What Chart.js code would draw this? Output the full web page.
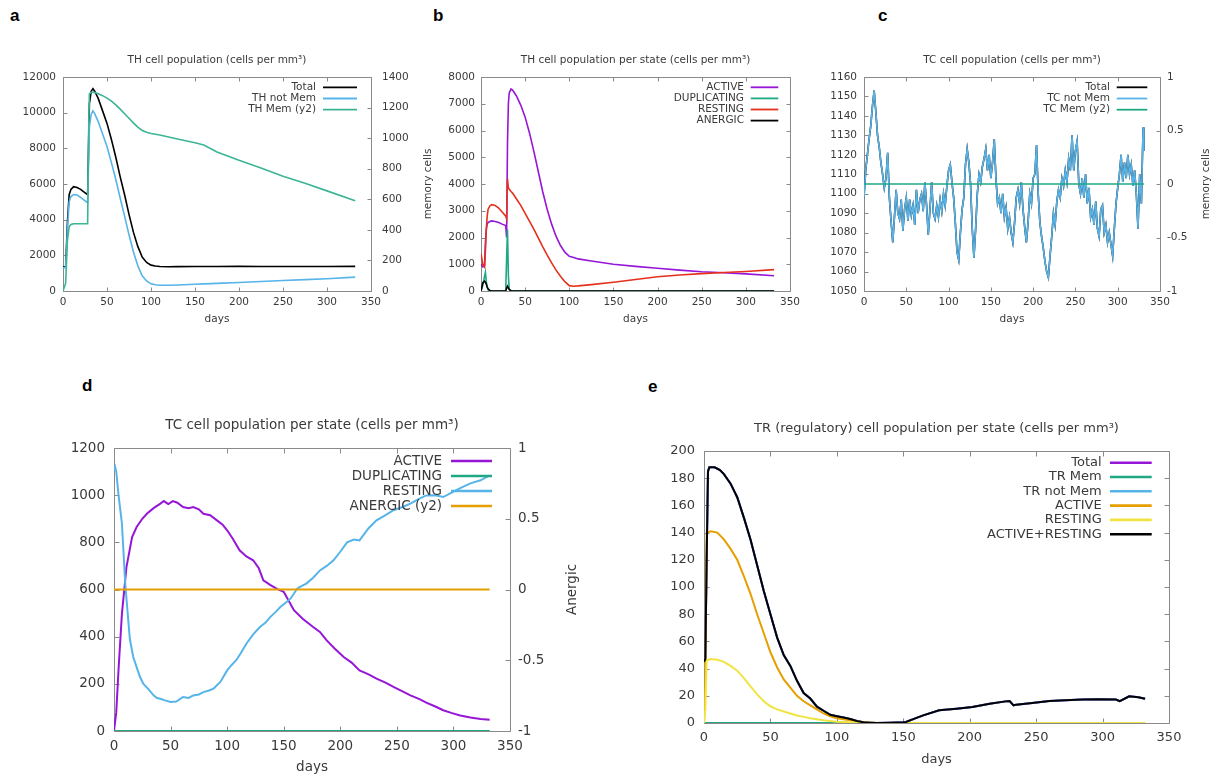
<!DOCTYPE html>
<html lang="en">
<head>
  <meta charset="UTF-8">
  <title>Immune simulation: cell populations</title>
  <script src="https://cdn.jsdelivr.net/npm/chart.js"></script>
  <style>
    body { margin: 0; background: #fff; width: 1213px; height: 776px; position: relative; overflow: hidden; }
    canvas { position: absolute; }
    .tag { position: absolute; font: bold 17px "Liberation Sans", Arial, sans-serif; color: #000; line-height: 17px; }
  </style>
</head>
<body>
  <div class="tag" style="left:10px;top:7px">a</div>
  <div class="tag" style="left:433px;top:7px">b</div>
  <div class="tag" style="left:878px;top:7px">c</div>
  <div class="tag" style="left:82px;top:377px">d</div>
  <div class="tag" style="left:648px;top:378px">e</div>

  <canvas id="chartA" width="415" height="286" style="left:0px;top:40px"></canvas>
  <canvas id="chartB" width="383" height="286" style="left:422px;top:40px"></canvas>
  <canvas id="chartC" width="393" height="286" style="left:820px;top:40px"></canvas>
  <canvas id="chartD" width="520" height="376" style="left:60px;top:400px"></canvas>
  <canvas id="chartE" width="560" height="367" style="left:640px;top:400px"></canvas>

  <script>
    // ---- panel a: TH cell population ----
    const aDays = [0,3,5,7,9,12,16,20,24,28,29,30,32,34,36,40,45,50,55,60,65,70,75,80,85,90,95,100,105,110,120,130,150,160,175,200,225,250,275,300,332];
    const aTotal = [1350,1350,3800,5400,5700,5850,5800,5700,5550,5400,8000,10500,11200,11350,11200,10800,10100,9400,8500,7500,6400,5400,4300,3300,2500,1900,1600,1450,1400,1370,1360,1365,1370,1370,1375,1380,1375,1370,1370,1370,1380];
    const aNotMem = [1300,1300,3400,5000,5300,5410,5380,5250,5100,4950,7000,9200,9900,10100,9950,9500,8800,8100,7200,6250,5200,4200,3150,2200,1420,850,560,400,350,320,320,340,380,400,430,480,530,590,640,690,780];
    const aMem = [0,50,330,420,435,440,440,440,440,440,1000,1290,1300,1300,1298,1290,1278,1262,1242,1218,1190,1160,1130,1100,1072,1050,1038,1030,1025,1020,1008,995,970,955,910,855,805,750,705,655,590];

    // ---- panel b: TH cell population per state ----
    const bDays = [0,2,4,5,6,7,8,10,12,16,20,24,28,29,30,31,32,34,36,40,45,50,55,60,65,70,75,80,85,90,95,100,105,110,125,150,175,200,225,250,275,300,332];
    const bActive = [1000,900,950,1800,2300,2500,2560,2600,2620,2600,2560,2500,2450,2000,5500,7000,7400,7550,7500,7300,6950,6500,5900,5200,4450,3700,3050,2500,2050,1700,1450,1300,1250,1200,1120,1000,920,850,780,720,680,640,570];
    const bResting = [1400,1000,900,1500,2300,2800,3050,3180,3230,3200,3100,2950,2800,2700,4200,3850,3800,3720,3650,3450,3200,2900,2600,2300,1980,1650,1340,1050,780,550,350,200,180,190,240,330,430,530,600,650,690,730,800];
    const bSpikeDays = [0,2,4,5,6,7,8,10,12,28,29,30,31,32,34,36,332];
    const bDuplicating = [0,200,550,700,350,150,50,0,0,0,1200,2300,600,50,0,0,0];
    const bAnergic = [0,300,370,330,250,150,80,20,0,0,100,180,120,60,10,0,0];

    // ---- panel c: TC cell population ----
    const cDays = [0,2,4,6,8,10,12,14,16,18,20,22,24,26,28,30,32,34,36,38,40,42,44,46,48,50,52,54,56,58,
      60,62,64,66,68,70,72,74,76,78,80,82,84,86,88,90,92,94,96,98,100,102,104,106,108,110,112,114,116,118,
      120,122,124,126,128,130,132,134,136,138,140,142,144,146,148,150,152,154,156,158,160,162,164,166,168,170,172,174,176,178,
      180,182,184,186,188,190,192,194,196,198,200,202,204,206,208,210,212,214,216,218,220,222,224,226,228,230,232,234,236,238,
      240,242,244,246,248,250,252,254,256,258,260,262,264,266,268,270,272,274,276,278,280,282,284,286,288,290,292,294,296,298,
      300,302,304,306,308,310,312,314,316,318,320,322,324,326,328,330,331];
    const cNotMem = [1098,1112,1120,1128,1135,1145,1153,1142,1130,1124,
      1116,1110,1103,1108,1121,1098,1086,1075,1088,1102,
      1090,1087,1097,1081,1092,1098,1086,1097,1089,1094,
      1084,1102,1090,1097,1100,1091,1106,1094,1079,1092,
      1106,1090,1087,1094,1088,1097,1091,1100,1094,1104,
      1112,1115,1106,1098,1085,1070,1066,1080,1092,1098,
      1115,1123,1116,1105,1082,1067,1082,1100,1110,1106,
      1114,1118,1123,1112,1120,1108,1116,1128,1108,1095,
      1098,1090,1100,1088,1093,1082,1088,1080,1075,1085,
      1098,1102,1095,1106,1092,1083,1075,1085,1100,1095,
      1108,1110,1125,1100,1085,1078,1072,1065,1060,1057,
      1068,1078,1090,1084,1096,1102,1098,1108,1104,1112,
      1106,1118,1112,1130,1112,1122,1127,1105,1100,1108,
      1098,1110,1095,1103,1088,1092,1084,1096,1082,1078,
      1092,1094,1080,1084,1075,1080,1074,1068,1082,1095,
      1103,1110,1120,1106,1116,1108,1120,1110,1115,1104,
      1112,1100,1082,1110,1095,1134,1122];
    const cMemDays = [0,331];
    const cMem = [0,0];

    // ---- panel d: TC cell population per state ----
    const dActiveDays = [0,2,4,7,11,16,20,25,29,35,41,44,48,52,56,61,66,70,75,79,85,91,96,100,105,111,117,123,128,132,138,144,150,159,167,176,182,188,195,203,210,217,225,232,240,247,255,262,270,276,284,291,298,306,315,324,332];
    const dActive = [0,80,260,497,695,822,865,900,921,945,964,975,962,975,968,950,945,950,940,921,915,893,875,851,815,766,740,724,690,639,620,603,590,512,475,441,420,384,350,314,290,257,240,222,205,187,168,151,135,120,104,88,77,66,57,51,48];
    const dRestingDays = [0,1,2,4,7,10,14,17,20,23,26,30,35,38,41,45,50,55,61,66,70,75,79,84,88,94,100,104,108,112,117,123,129,134,138,143,147,152,156,162,166,170,176,182,188,194,200,206,212,217,225,232,240,247,255,262,270,276,284,291,298,306,315,324,332];
    const dResting = [1105,1120,1100,1000,880,620,390,314,271,229,200,180,151,140,137,130,123,125,144,140,151,155,165,172,180,208,257,280,300,330,370,410,441,460,483,505,526,545,561,604,615,625,650,681,700,724,760,800,812,808,860,893,915,936,950,964,985,999,1000,992,1010,1030,1050,1063,1084];
    const dFlatDays = [0,332];
    const dDuplicating = [0,0];
    const dAnergic = [0,0];

    // ---- panel e: TR (regulatory) cell population per state ----
    const eDays = [0,1,2,3,4,8,12,15,20,25,30,35,40,45,50,55,60,65,70,75,80,85,90,95,100,105,110,115,120,125,130,140,150,152,158,165,177,190,202,215,227,230,233,235,247,260,272,285,297,310,313,320,327,332];
    const eActiveResting = [45,47,120,185,188,188,186,183,176,166,151,135,116,97,80,63,50,42,31,22,18,12,9,6,5,4,3,1.5,0.5,0.2,0,0.2,0.5,0.7,3,5.6,9.3,10.5,11.8,14.2,15.9,16.2,13,13.5,14.7,16.2,16.7,17.2,17.4,17.2,16,19.6,19,17.9];
    const eTotal = [45,47,120,185,188,188,186,183,176,166,151,135,116,97,80,63,50,42,31,22,18,12,9,6,5,4,3,1.5,0.5,0.2,0,0.2,0.5,0.7,3,5.6,9.3,10.5,11.8,14.2,15.9,16.2,13,13.5,14.7,16.2,16.7,17.2,17.4,17.2,16,19.6,19,17.9];
    const eNotMem = [45,47,120,185,188,188,186,183,176,166,151,135,116,97,80,63,50,42,31,22,18,12,9,6,5,4,3,1.5,0.5,0.2,0,0.2,0.5,0.7,3,5.6,9.3,10.5,11.8,14.2,15.9,16.2,13,13.5,14.7,16.2,16.7,17.2,17.4,17.2,16,19.6,19,17.9];
    const eStateDays = [0,1,2,5,10,15,20,25,30,35,40,45,50,55,60,65,70,75,80,85,90,95,100,110,120,130,332];
    const eActive = [0,30,140,141,140,135,128,120,108,95,80,66,52,41,32,26,20,16,13,10,7,5,3.5,2,0.5,0,0];
    const eRestingV = [0,10,46,47,46.5,45,42,38.5,33,27,21,16,12.3,10,8.5,7,5.5,4.5,3.5,2.8,2,1.5,1,0.5,0.2,0,0];
    const eMemDays = [0,332];
    const eMem = [0,0];

    const INK = '#3a3a3a';
    Chart.defaults.font.family = '"DejaVu Sans", "Liberation Sans", sans-serif';
    Chart.defaults.color = INK;

    function pts(days, vals) {
      return days.map((d, i) => ({ x: d, y: vals[i] }));
    }

    function series(label, color, days, vals, width, axis) {
      return { label: label, data: pts(days, vals), borderColor: color, backgroundColor: color,
        borderWidth: width, pointRadius: 0, tension: 0, fill: false, yAxisID: axis || 'y' };
    }

    // gnuplot style: grey frame, inward ticks, title over the plot, legend inside top-right
    const gnuplotLook = {
      id: 'gnuplotLook',
      beforeDatasetsDraw(chart, args, opts) {
        const ctx = chart.ctx, a = chart.chartArea, t = opts.tickLen;
        ctx.save();
        ctx.strokeStyle = '#8a8a8a';
        ctx.lineWidth = 1;
        ctx.beginPath();
        const L = Math.round(a.left) + 0.5, R = Math.round(a.right) + 0.5;
        const T = Math.round(a.top) + 0.5, B = Math.round(a.bottom) + 0.5;
        ctx.rect(L, T, R - L, B - T);
        const xs = chart.scales.x;
        xs.ticks.forEach(tk => {
          const p = Math.round(xs.getPixelForValue(tk.value)) + 0.5;
          ctx.moveTo(p, B); ctx.lineTo(p, B - t);
          ctx.moveTo(p, T); ctx.lineTo(p, T + t);
        });
        const yl = chart.scales.y, yr = chart.scales.y2 || yl;
        yl.ticks.forEach(tk => {
          const p = Math.round(yl.getPixelForValue(tk.value)) + 0.5;
          ctx.moveTo(L, p); ctx.lineTo(L + t, p);
        });
        yr.ticks.forEach(tk => {
          const p = Math.round(yr.getPixelForValue(tk.value)) + 0.5;
          ctx.moveTo(R, p); ctx.lineTo(R - t, p);
        });
        ctx.stroke();
        ctx.restore();
      },
      afterDraw(chart, args, opts) {
        const ctx = chart.ctx, a = chart.chartArea;
        ctx.save();
        ctx.fillStyle = INK;
        ctx.textBaseline = 'middle';
        ctx.font = opts.titleSize + 'px "DejaVu Sans"';
        ctx.textAlign = 'center';
        ctx.fillText(opts.title, (a.left + a.right) / 2, a.top - opts.titleOffset);

        const lg = opts.legend;
        ctx.font = lg.size + 'px "DejaVu Sans"';
        ctx.textAlign = 'right';
        chart.data.datasets.forEach((ds, i) => {
          const y = a.top + lg.dy0 + i * lg.rowH;
          ctx.fillStyle = INK;
          ctx.fillText(ds.label, a.right - lg.textDx, y);
          ctx.strokeStyle = ds.borderColor;
          ctx.lineWidth = lg.lineWidth;
          ctx.beginPath();
          ctx.moveTo(a.right - lg.line1, y);
          ctx.lineTo(a.right - lg.line2, y);
          ctx.stroke();
        });

        if (opts.y2Title) {
          ctx.font = opts.titleSize + 'px "DejaVu Sans"';
          ctx.textAlign = 'center';
          ctx.fillStyle = INK;
          ctx.translate(a.right + opts.y2Title.dx, (a.top + a.bottom) / 2);
          ctx.rotate(-Math.PI / 2);
          ctx.fillText(opts.y2Title.text, 0, 0);
        }
        ctx.restore();
      }
    };

    function xAxis(size, height, pad) {
      return {
        type: 'linear', position: 'bottom', min: 0, max: 350,
        border: { display: false }, grid: { display: false, drawTicks: false },
        ticks: { stepSize: 50, padding: pad, font: { size: size }, color: INK, maxRotation: 0, autoSkip: false,
          callback: v => String(v) },
        title: { display: true, text: 'days', font: { size: size }, color: INK, padding: 0 },
        afterFit: s => { s.height = height; }
      };
    }

    function yAxis(position, min, max, step, size, width, pad, title) {
      return {
        type: 'linear', position: position, min: min, max: max,
        border: { display: false }, grid: { display: false, drawTicks: false },
        ticks: { stepSize: step, padding: pad, font: { size: size }, color: INK, autoSkip: false,
          callback: v => String(v) },
        title: { display: !!title, text: title || '', font: { size: size }, color: INK, padding: 0 },
        afterFit: s => { s.width = width; }
      };
    }

    function makeChart(id, datasets, scales, look, padding) {
      const n = datasets.length;
      datasets.forEach((ds, i) => { ds.order = n - i; });
      return new Chart(document.getElementById(id), {
        type: 'line',
        data: { datasets: datasets },
        options: {
          responsive: false,
          animation: false,
          layout: { padding: padding },
          scales: scales,
          plugins: { legend: { display: false }, tooltip: { enabled: false }, gnuplotLook: look }
        },
        plugins: [gnuplotLook]
      });
    }

    const PURPLE = '#9616d8', GREEN = '#1fa884', SKY = '#56b4e9', ORANGE = '#e69f00',
          YELLOW = '#f0e442', RED = '#e5301c', BLACK = '#000000';

    makeChart('chartA', [
      series('Total', BLACK, aDays, aTotal, 1.6),
      series('TH not Mem', SKY, aDays, aNotMem, 1.6),
      series('TH Mem (y2)', '#3cb496', aDays, aMem, 1.6, 'y2')
    ], {
      x: xAxis(10.5, 35, 5),
      y: yAxis('left', 0, 12000, 2000, 10.5, 63, 7),
      y2: yAxis('right', 0, 1400, 200, 10.5, 44, 11)
    }, {
      title: 'TH cell population (cells per mm³)', titleSize: 10.5, titleOffset: 16.3, tickLen: 4,
      legend: { size: 10.5, textDx: 55, line1: 48, line2: 14, dy0: 10.3, rowH: 11.2, lineWidth: 1.8 }
    }, { top: 37, right: 0 });

    makeChart('chartB', [
      series('ACTIVE', PURPLE, bDays, bActive, 1.6),
      series('DUPLICATING', GREEN, bSpikeDays, bDuplicating, 1.6),
      series('RESTING', RED, bDays, bResting, 1.6),
      series('ANERGIC', BLACK, bSpikeDays, bAnergic, 1.6)
    ], {
      x: xAxis(10.5, 35, 5),
      y: yAxis('left', 0, 8000, 1000, 10.5, 59, 6, 'memory cells')
    }, {
      title: 'TH cell population per state (cells per mm³)', titleSize: 10.5, titleOffset: 16.3, tickLen: 4,
      legend: { size: 10.5, textDx: 46, line1: 39.3, line2: 11.7, dy0: 10.3, rowH: 11.1, lineWidth: 1.8 }
    }, { top: 37, right: 14 });

    makeChart('chartC', [
      series('Total', BLACK, cDays, cNotMem, 1.6),
      series('TC not Mem', SKY, cDays, cNotMem, 1.6),
      series('TC Mem (y2)', GREEN, cMemDays, cMem, 1.6, 'y2')
    ], {
      x: xAxis(10.5, 35, 5),
      y: yAxis('left', 1050, 1160, 10, 10.5, 44, 7),
      y2: yAxis('right', -1, 1, 0.5, 10.5, 53, 7)
    }, {
      title: 'TC cell population (cells per mm³)', titleSize: 10.5, titleOffset: 16.3, tickLen: 4,
      legend: { size: 10.5, textDx: 50, line1: 43.3, line2: 12.7, dy0: 10.3, rowH: 11.2, lineWidth: 1.8 },
      y2Title: { text: 'memory cells', dx: 46.7 }
    }, { top: 37, right: 0 });

    makeChart('chartD', [
      series('ACTIVE', PURPLE, dActiveDays, dActive, 2),
      series('DUPLICATING', GREEN, dFlatDays, dDuplicating, 2),
      series('RESTING', SKY, dRestingDays, dResting, 2),
      series('ANERGIC (y2)', ORANGE, dFlatDays, dAnergic, 2, 'y2')
    ], {
      x: xAxis(13.5, 45, 7),
      y: yAxis('left', 0, 1200, 200, 13.5, 54, 9),
      y2: yAxis('right', -1, 1, 0.5, 13.5, 70, 8)
    }, {
      title: 'TC cell population per state (cells per mm³)', titleSize: 13.5, titleOffset: 23, tickLen: 5,
      legend: { size: 13.5, textDx: 68, line1: 59, line2: 18, dy0: 13, rowH: 15, lineWidth: 2.6 },
      y2Title: { text: 'Anergic', dx: 62 }
    }, { top: 48, right: 0 });

    makeChart('chartE', [
      series('Total', PURPLE, eDays, eTotal, 2),
      series('TR Mem', GREEN, eMemDays, eMem, 2),
      series('TR not Mem', SKY, eDays, eNotMem, 2),
      series('ACTIVE', ORANGE, eStateDays, eActive, 2),
      series('RESTING', YELLOW, eStateDays, eRestingV, 2),
      series('ACTIVE+RESTING', BLACK, eDays, eActiveResting, 2)
    ], {
      x: xAxis(13, 44, 7),
      y: yAxis('left', 0, 200, 20, 13, 64, 9)
    }, {
      title: 'TR (regulatory) cell population per state (cells per mm³)', titleSize: 13, titleOffset: 22, tickLen: 5,
      legend: { size: 13, textDx: 67.3, line1: 59, line2: 17.3, dy0: 11.7, rowH: 14.3, lineWidth: 2.6 }
    }, { top: 51, right: 31 });
  </script>
</body>
</html>
